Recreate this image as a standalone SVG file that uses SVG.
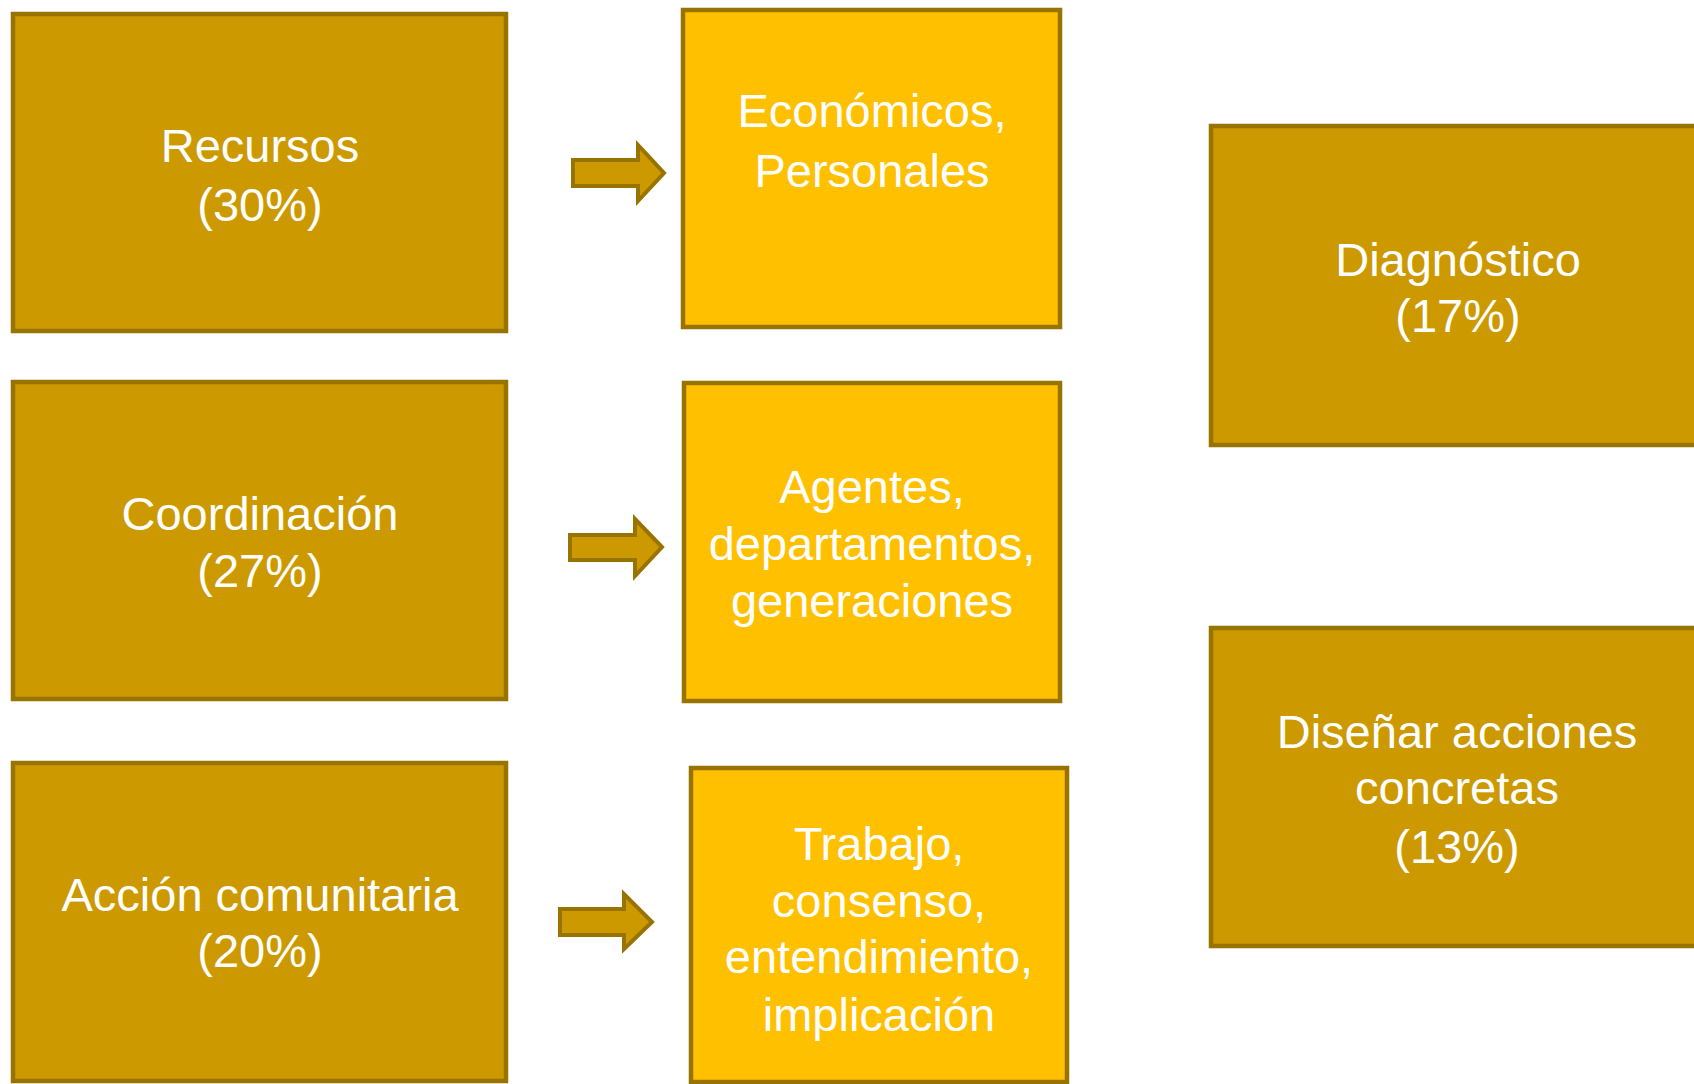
<svg xmlns="http://www.w3.org/2000/svg" width="1694" height="1084" viewBox="0 0 1694 1084">
<style>
.dark{fill:#CC9900;stroke:#997300;stroke-width:4.5}
.light{fill:#FFC000;stroke:#997300;stroke-width:4.5}
.arrow{fill:#CC9900;stroke:#997300;stroke-width:4;stroke-linejoin:miter}
text{font-family:"Liberation Sans",Arial,sans-serif;font-size:47px;fill:#FFFFFF;text-anchor:middle}
</style>
<rect width="1694" height="1084" fill="#FFFFFF"/>
<g id="recursos">
<rect class="dark" x="13" y="14" width="493" height="317"/>
<text x="260" y="162">Recursos</text>
<text x="260" y="221">(30%)</text>
</g>
<g id="economicos">
<rect class="light" x="683" y="10" width="377" height="317"/>
<text x="872" y="127">Económicos,</text>
<text x="872" y="187">Personales</text>
</g>
<g id="coordinacion">
<rect class="dark" x="13" y="382" width="493" height="317"/>
<text x="260" y="530">Coordinación</text>
<text x="260" y="587">(27%)</text>
</g>
<g id="agentes">
<rect class="light" x="684" y="383" width="376" height="318"/>
<text x="872" y="503">Agentes,</text>
<text x="872" y="560">departamentos,</text>
<text x="872" y="617">generaciones</text>
</g>
<g id="accion">
<rect class="dark" x="13" y="763" width="493" height="318"/>
<text x="260" y="911">Acción comunitaria</text>
<text x="260" y="967">(20%)</text>
</g>
<g id="trabajo">
<rect class="light" x="691" y="768" width="376" height="314"/>
<text x="879" y="860">Trabajo,</text>
<text x="879" y="917">consenso,</text>
<text x="879" y="973">entendimiento,</text>
<text x="879" y="1031">implicación</text>
</g>
<g id="diagnostico">
<rect class="dark" x="1211" y="126" width="500" height="319"/>
<text x="1458" y="276">Diagnóstico</text>
<text x="1458" y="332">(17%)</text>
</g>
<g id="disenar">
<rect class="dark" x="1211" y="628" width="500" height="318"/>
<text x="1457" y="748">Diseñar acciones</text>
<text x="1457" y="804">concretas</text>
<text x="1457" y="863">(13%)</text>
</g>
<g id="connectors">
<polygon class="arrow" points="573,160 638,160 638,145 664,173 638,201 638,186 573,186"/>
<polygon class="arrow" points="570,535 635,535 635,519 662,547 635,576 635,560 570,560"/>
<polygon class="arrow" points="560,909 624,909 624,894 652,922 624,949 624,935 560,935"/>
</g>
</svg>
